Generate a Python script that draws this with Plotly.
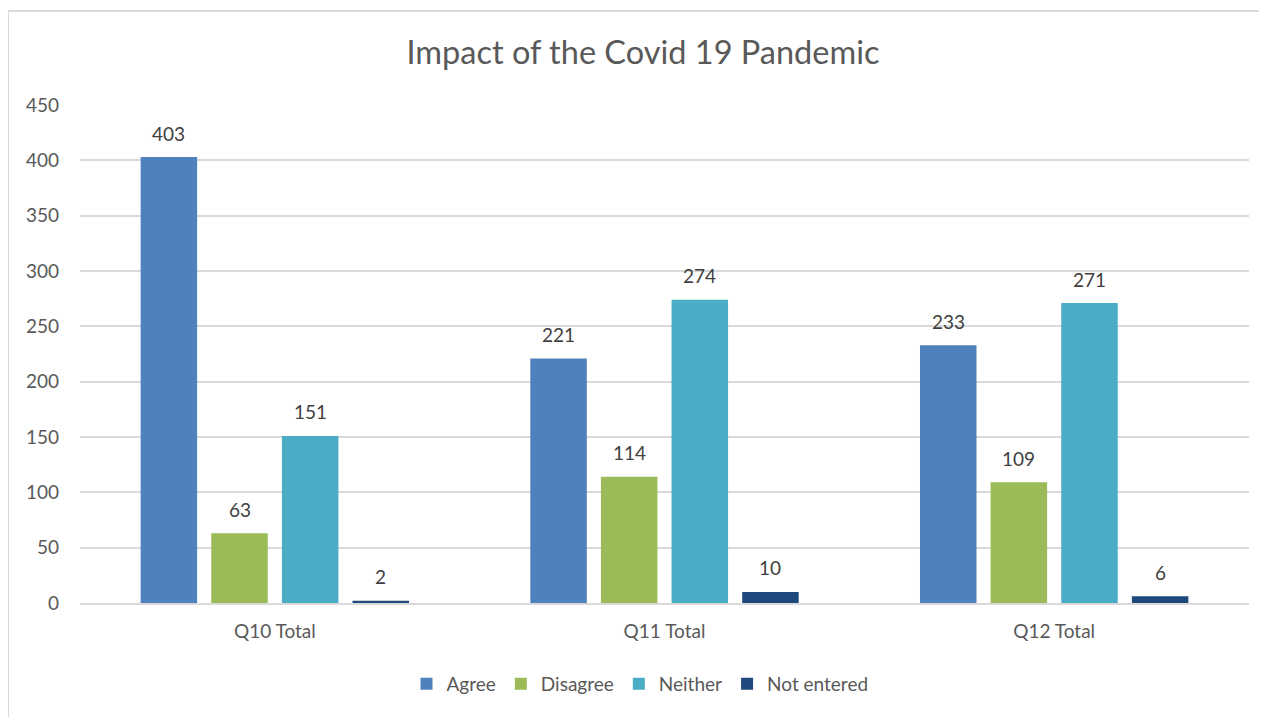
import plotly.graph_objects as go

categories = ["Q10 Total", "Q11 Total", "Q12 Total"]
series_names = ["Agree", "Disagree", "Neither", "Not entered"]
agree = [403, 221, 233]
disagree = [63, 114, 109]
neither = [151, 274, 271]
not_entered = [2, 10, 6]
colors = ["#4F81BD", "#9BBB59", "#4BACC6", "#1F497D"]
y_ticks = [0, 50, 100, 150, 200, 250, 300, 350, 400, 450]

FONT = "Lato"
OFF = 8  # page body margin
W, H = 1267, 717
L, R, T, B = 80 - OFF, 18 + OFF, 105 - OFF, 114 + OFF
pw, ph = W - L - R, H - T - B
bargap, bargroupgap = 0.275, 0.2
slot = (pw / len(categories)) * (1 - bargap) / len(series_names)

fig = go.Figure()
all_vals = [agree, disagree, neither, not_entered]
for i, (name, vals, col) in enumerate(zip(series_names, all_vals, colors)):
    fig.add_trace(go.Bar(
        x=categories, y=vals, name=name, marker=dict(color=col, line=dict(width=0)),
    ))
    xs = (i - (len(series_names) - 1) / 2) * slot
    for c, v in zip(categories, vals):
        fig.add_annotation(x=c, y=v, text=str(v), showarrow=False, xshift=xs, yshift=24,
                           yanchor="middle", font=dict(family=FONT, size=19, color="#404040"))

fig.update_layout(
    width=W, height=H,
    margin=dict(l=L, r=R, t=T, b=B, autoexpand=False),
    paper_bgcolor="white", plot_bgcolor="white",
    barmode="group", bargap=bargap, bargroupgap=bargroupgap,
    title=dict(text="Impact of the Covid 19 Pandemic", x=(643 - OFF) / W, xanchor="center",
               y=1 - (53 - OFF) / H, yanchor="middle",
               font=dict(family=FONT, size=32.5, color="#595959")),
    font=dict(family=FONT, color="#595959"),
    xaxis=dict(showgrid=False, showline=True, linecolor="#D9D9D9", linewidth=1.5,
               ticks="", tickfont=dict(family=FONT, size=19, color="#595959"), ticklabelstandoff=10),
    yaxis=dict(range=[0, 450], tickvals=y_ticks, showgrid=True, gridcolor="#D9D9D9", gridwidth=1.5,
               zeroline=False, showline=False, ticks="",
               tickfont=dict(family=FONT, size=19, color="#595959"), ticklabelstandoff=20),
    legend=dict(orientation="h", x=(640 - OFF - L) / pw, xanchor="center", y=(603 - 684) / ph, yanchor="middle",
                font=dict(family=FONT, size=19, color="#595959"), itemwidth=30, traceorder="normal"),
    showlegend=True,
)
fig.add_shape(type="rect", xref="paper", yref="paper",
              x0=(8 - 80) / pw, x1=(W + 10 - L) / pw, y0=(603 - H - 20) / ph, y1=(603 - 11) / ph,
              line=dict(color="#D9D9D9", width=2), fillcolor="rgba(0,0,0,0)", layer="below")
fig.write_html("out.html")
